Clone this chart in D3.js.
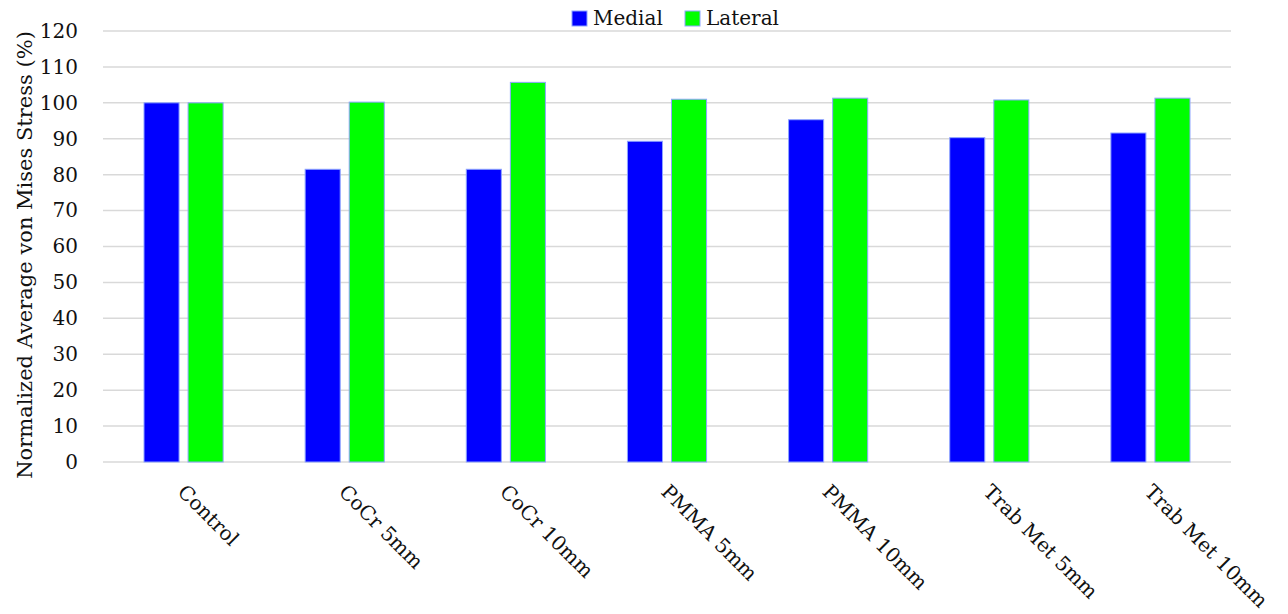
<!DOCTYPE html>
<html>
<head>
<meta charset="utf-8">
<script src="https://cdn.jsdelivr.net/npm/d3@7"></script>
<style>
  html, body { margin: 0; padding: 0; background: #fff; }
  svg { display: block; }
  text { font-family: "DejaVu Serif", "Liberation Serif", serif; fill: #111; }
</style>
</head>
<body>
<svg id="chart" width="1288" height="614"></svg>
<script>
// Implant groups along the x axis
const categories = ["Control", "CoCr 5mm", "CoCr 10mm", "PMMA 5mm", "PMMA 10mm", "Trab Met 5mm", "Trab Met 10mm"];
// Series names and values (normalized average von Mises stress, %)
const seriesNames = ["Medial", "Lateral"];
const medialValues = [100, 81.5, 81.5, 89.3, 95.3, 90.3, 91.6];
const lateralValues = [100, 100.2, 105.7, 101.0, 101.3, 100.8, 101.3];
const seriesColors = ["#0000ff", "#00ff00"];
// Y-axis ticks
const yTicks = [0, 10, 20, 30, 40, 50, 60, 70, 80, 90, 100, 110, 120];
const yTitle = "Normalized Average von Mises Stress (%)";

const seriesValues = [medialValues, lateralValues];
const rows = categories.map((c, i) => ({
  category: c,
  values: seriesNames.map((s, k) => ({ series: s, value: seriesValues[k][i] }))
}));

const svg = d3.select("#chart");
const margin = { left: 103, right: 1231, top: 31, bottom: 462 };

const y = d3.scaleLinear().domain([0, 120]).range([margin.bottom, margin.top]);
const x0 = d3.scaleBand().domain(categories).range([margin.left, margin.right])
  .paddingInner(0.509).paddingOuter(0.2545);
const x1 = d3.scaleBand().domain(seriesNames).range([0, x0.bandwidth()])
  .paddingInner(0.2045).paddingOuter(0);
const color = d3.scaleOrdinal().domain(seriesNames).range(seriesColors);

// Horizontal gridlines
svg.append("g").selectAll("line").data(yTicks).join("line")
  .attr("x1", margin.left).attr("x2", margin.right)
  .attr("y1", d => y(d)).attr("y2", d => y(d))
  .attr("stroke", "#d9d9d9").attr("stroke-width", 1.5);

// Y axis labels (no domain line)
const yAxis = svg.append("g")
  .attr("transform", `translate(${margin.left},0)`)
  .call(d3.axisLeft(y).tickValues(yTicks).tickSize(0).tickPadding(25));
yAxis.select(".domain").remove();
yAxis.selectAll("text")
  .style("font-family", '"DejaVu Serif", serif')
  .style("font-size", "20px").attr("fill", "#111");

// Y axis title
svg.append("text")
  .attr("transform", `translate(32,255) rotate(-90)`)
  .attr("text-anchor", "middle")
  .style("font-size", "21px")
  .text(yTitle);

// Bars
const groups = svg.append("g").selectAll("g").data(rows).join("g")
  .attr("transform", d => `translate(${x0(d.category)},0)`);
groups.selectAll("rect").data(d => d.values).join("rect")
  .attr("x", d => x1(d.series))
  .attr("width", x1.bandwidth())
  .attr("y", d => y(d.value))
  .attr("height", d => y(0) - y(d.value))
  .attr("fill", d => color(d.series))
  .attr("stroke", "#8ea4ff").attr("stroke-width", 1);

// X axis category labels, rotated 45 degrees
const xAxis = svg.append("g")
  .attr("transform", `translate(0,${margin.bottom})`)
  .call(d3.axisBottom(x0).tickSize(0).tickPadding(0));
xAxis.select(".domain").remove();
xAxis.selectAll("text")
  .style("font-family", '"DejaVu Serif", serif')
  .style("font-size", "20px").attr("fill", "#111")
  .attr("text-anchor", "start")
  .attr("dy", null).attr("y", 0)
  .attr("transform", "translate(-7,31) rotate(45)");

// Legend
const legend = svg.append("g").attr("transform", "translate(572,11)");
const legendX = [0, 113];
seriesNames.forEach((s, i) => {
  const g = legend.append("g").attr("transform", `translate(${legendX[i]},0)`);
  g.append("rect").attr("width", 15).attr("height", 15)
    .attr("fill", color(s)).attr("stroke", "#8ea4ff").attr("stroke-width", 1);
  g.append("text").attr("x", 21).attr("y", 14)
    .style("font-size", "20px").text(s);
});
</script>
</body>
</html>
